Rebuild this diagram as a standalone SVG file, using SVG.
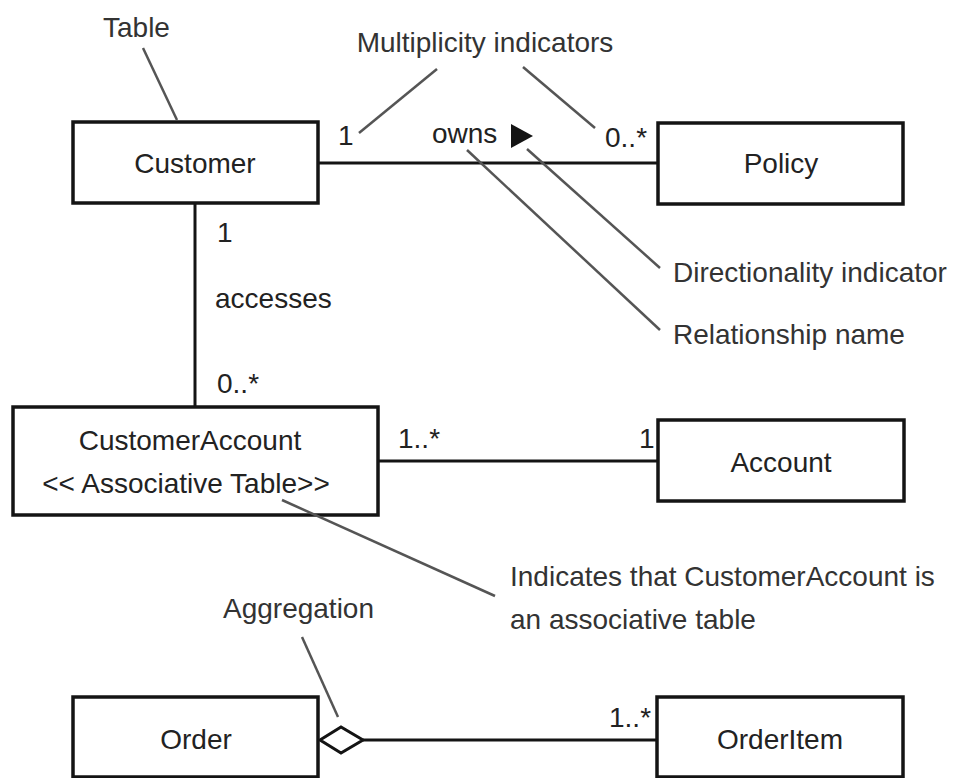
<svg xmlns="http://www.w3.org/2000/svg" width="959" height="778" viewBox="0 0 959 778">
  <style>
    .box { fill: #fff; stroke: #141414; stroke-width: 3.5; }
    .link { stroke: #141414; stroke-width: 3; fill: none; }
    .leader { stroke: #555; stroke-width: 2.5; fill: none; }
    text { font-family: "Liberation Sans", Arial, Helvetica, sans-serif; font-size: 28px; fill: #222; }
    .mid { text-anchor: middle; }
    .note { fill: #333; }
  </style>
  <rect width="959" height="778" fill="#fff"/>

  <!-- connectors between tables -->
  <g id="connectors">
    <line class="link" x1="318" y1="163" x2="658" y2="163"/>
    <line class="link" x1="195" y1="203" x2="195" y2="407"/>
    <line class="link" x1="378" y1="461" x2="658" y2="461"/>
    <line class="link" x1="363" y1="740" x2="657" y2="740"/>
    <!-- aggregation diamond on the Order end -->
    <polygon points="320,740 341,727 363,740 341,753" fill="#fff" stroke="#141414" stroke-width="3"/>
    <!-- direction of the "owns" relationship -->
    <polygon points="511,124 511,148 533,136" fill="#141414"/>
    <!-- role labels -->
    <text x="338" y="145">1</text>
    <text x="432" y="143">owns</text>
    <text x="605" y="147">0..*</text>
    <text x="217" y="242">1</text>
    <text x="215" y="308">accesses</text>
    <text x="217" y="393">0..*</text>
    <text x="398" y="448">1..*</text>
    <text x="639" y="448">1</text>
    <text x="609" y="727">1..*</text>
  </g>

  <g id="customer">
    <rect class="box" x="73" y="122" width="245" height="81"/>
    <text class="mid" x="195" y="173">Customer</text>
  </g>

  <g id="policy">
    <rect class="box" x="658" y="123" width="245" height="81"/>
    <text class="mid" x="781" y="173">Policy</text>
  </g>

  <g id="customer-account">
    <rect class="box" x="13" y="407" width="365" height="108"/>
    <text class="mid" x="190" y="450">CustomerAccount</text>
    <text class="mid" x="186" y="493">&lt;&lt; Associative Table&gt;&gt;</text>
  </g>

  <g id="account">
    <rect class="box" x="658" y="420" width="246" height="81"/>
    <text class="mid" x="781" y="472">Account</text>
  </g>

  <g id="order">
    <rect class="box" x="73" y="697" width="245" height="80"/>
    <text class="mid" x="196" y="749">Order</text>
  </g>

  <g id="order-item">
    <rect class="box" x="657" y="697" width="246" height="80"/>
    <text class="mid" x="780" y="749">OrderItem</text>
  </g>

  <!-- callouts -->
  <g id="annotations">
    <line class="leader" x1="143" y1="48" x2="177" y2="120"/>
    <text class="note" x="103" y="37">Table</text>

    <line class="leader" x1="437" y1="69" x2="359" y2="133"/>
    <line class="leader" x1="523" y1="67" x2="595" y2="128"/>
    <text class="note mid" x="485" y="52">Multiplicity indicators</text>

    <line class="leader" x1="527" y1="149" x2="660" y2="268"/>
    <text class="note" x="673" y="282">Directionality indicator</text>

    <line class="leader" x1="467" y1="150" x2="660" y2="330"/>
    <text class="note" x="673" y="344">Relationship name</text>

    <line class="leader" x1="282" y1="500" x2="495" y2="596"/>
    <text class="note" x="510" y="586">Indicates that CustomerAccount is</text>
    <text class="note" x="510" y="629">an associative table</text>

    <line class="leader" x1="302" y1="637" x2="338" y2="717"/>
    <text class="note" x="223" y="618">Aggregation</text>
  </g>
</svg>
